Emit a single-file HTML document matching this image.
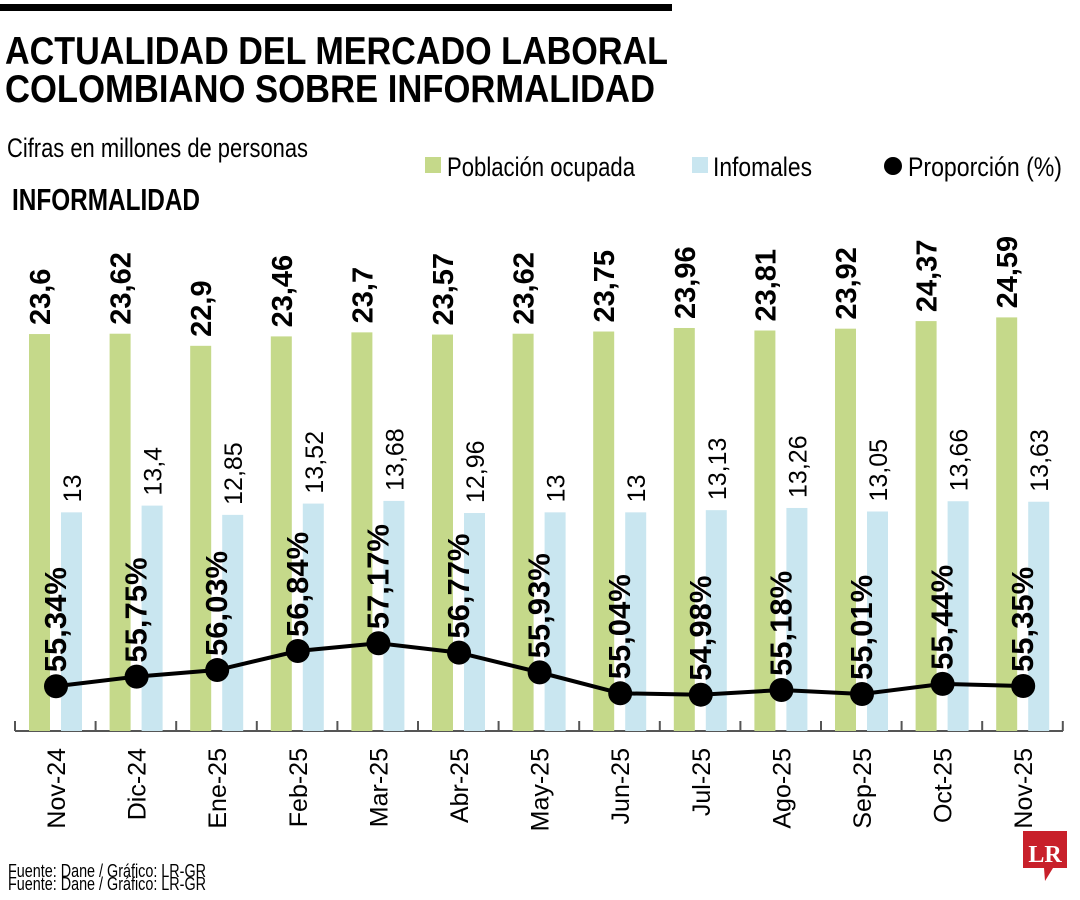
<!DOCTYPE html>
<html><head><meta charset="utf-8">
<style>
html,body{margin:0;padding:0;background:#fff;}
svg{display:block;font-family:"Liberation Sans Narrow","Liberation Sans",sans-serif;}
</style></head>
<body>
<svg width="1080" height="900" viewBox="0 0 1080 900">
  <rect x="0" y="4" width="672" height="7" fill="#000"/>
  <text x="5" y="64" font-size="39" font-weight="bold" textLength="663" lengthAdjust="spacingAndGlyphs">ACTUALIDAD DEL MERCADO LABORAL</text>
  <text x="5" y="102" font-size="39" font-weight="bold" textLength="650" lengthAdjust="spacingAndGlyphs">COLOMBIANO SOBRE INFORMALIDAD</text>
  <text x="7" y="157" font-size="27" textLength="301" lengthAdjust="spacingAndGlyphs">Cifras en millones de personas</text>
  <text x="12" y="210" font-size="31" font-weight="bold" textLength="188" lengthAdjust="spacingAndGlyphs">INFORMALIDAD</text>

  <g>
    <g>
      <rect x="425" y="157" width="16" height="16" fill="#c5d98a"/>
      <text x="447" y="176" font-size="27" textLength="188" lengthAdjust="spacingAndGlyphs">Población ocupada</text>
    </g>
    <g>
      <rect x="692" y="157" width="16" height="16" fill="#c9e6f0"/>
      <text x="713" y="176" font-size="27" textLength="99" lengthAdjust="spacingAndGlyphs">Infomales</text>
    </g>
    <g>
      <circle cx="893" cy="166" r="9" fill="#000"/>
      <text x="908" y="176" font-size="27" textLength="154" lengthAdjust="spacingAndGlyphs">Proporción (%)</text>
    </g>
  </g>

  <g id="plot"></g>

  <text x="8" y="877" font-size="18" textLength="198" lengthAdjust="spacingAndGlyphs">Fuente: Dane / Gráfico: LR-GR</text>
  <text x="8" y="890" font-size="18" textLength="198" lengthAdjust="spacingAndGlyphs">Fuente: Dane / Gráfico: LR-GR</text>

  <g>
    <path d="M1023 831 H1067 V868 H1053 L1045 881 L1044 868 H1023 Z" fill="#c8202a"/>
    <text x="1045" y="862" font-family="Liberation Serif,serif" font-weight="bold" font-size="24" fill="#fff" text-anchor="middle">LR</text>
  </g>
</svg>
<script>
const categories = ["Nov-24","Dic-24","Ene-25","Feb-25","Mar-25","Abr-25","May-25","Jun-25","Jul-25","Ago-25","Sep-25","Oct-25","Nov-25"];
const ocupada = [23.6,23.62,22.9,23.46,23.7,23.57,23.62,23.75,23.96,23.81,23.92,24.37,24.59];
const informales = [13,13.4,12.85,13.52,13.68,12.96,13,13,13.13,13.26,13.05,13.66,13.63];
const proporcion = [55.34,55.75,56.03,56.84,57.17,56.77,55.93,55.04,54.98,55.18,55.01,55.44,55.35];

const NS = "http://www.w3.org/2000/svg";
const plot = document.getElementById('plot');
const baseY = 731;
function xCenter(i){ return 56 + i*80.6; }
function yBar(v){ return baseY - v*16.82; }
function yPct(v){ return 694 - (v-55.01)*23.5; }
function fmt(v){ return String(v).replace('.', ','); }
function mk(tag, attrs){ const e=document.createElementNS(NS,tag); for(const k in attrs) e.setAttribute(k, attrs[k]); plot.appendChild(e); return e; }

// axis
const ax = mk('line',{x1:15,y1:baseY,x2:1063,y2:baseY,stroke:'#555','stroke-width':2});


for(let i=0;i<=categories.length;i++){
  const tx = xCenter(i)-41;
  const t = mk('line',{x1:tx,y1:baseY-10,x2:tx,y2:baseY,stroke:'#555','stroke-width':2});
  
  
}

categories.forEach((c,i)=>{
  const cx = xCenter(i);
  const gy = yBar(ocupada[i]);
  const g = mk('rect',{x:cx-27,y:gy,width:21,height:baseY-gy,fill:'#c5d98a'});
  
  
  const by = yBar(informales[i]);
  const b = mk('rect',{x:cx+5,y:by,width:21,height:baseY-by,fill:'#c9e6f0'});
  
  

  const gl = mk('text',{x:0,y:0,'font-size':29,'font-weight':'bold',transform:`translate(${cx-6},${gy-9}) rotate(-90)`});
  gl.textContent = fmt(ocupada[i]);
  
  

  const bl = mk('text',{x:0,y:0,'font-size':25,transform:`translate(${cx+25},${by-10}) rotate(-90)`});
  bl.textContent = fmt(informales[i]);
  
  

  const xl = mk('text',{x:0,y:0,'font-size':25,'text-anchor':'end',transform:`translate(${cx+9},${baseY+17}) rotate(-90)`});
  xl.textContent = c;
  
  
});

// line
const pts = proporcion.map((v,i)=>xCenter(i)+','+yPct(v)).join(' ');
const pl = mk('polyline',{points:pts,fill:'none',stroke:'#000','stroke-width':4,'stroke-linejoin':'round'});


proporcion.forEach((v,i)=>{
  const cx = xCenter(i), cy = yPct(v);
  const d = mk('circle',{cx:cx,cy:cy,r:12,fill:'#000'});
  
  
  const l = mk('text',{x:0,y:0,'font-size':31,'font-weight':'bold',transform:`translate(${cx+10},${cy-14}) rotate(-90)`});
  l.textContent = fmt(v)+'%';
  
  
});
</script>
</body></html>
